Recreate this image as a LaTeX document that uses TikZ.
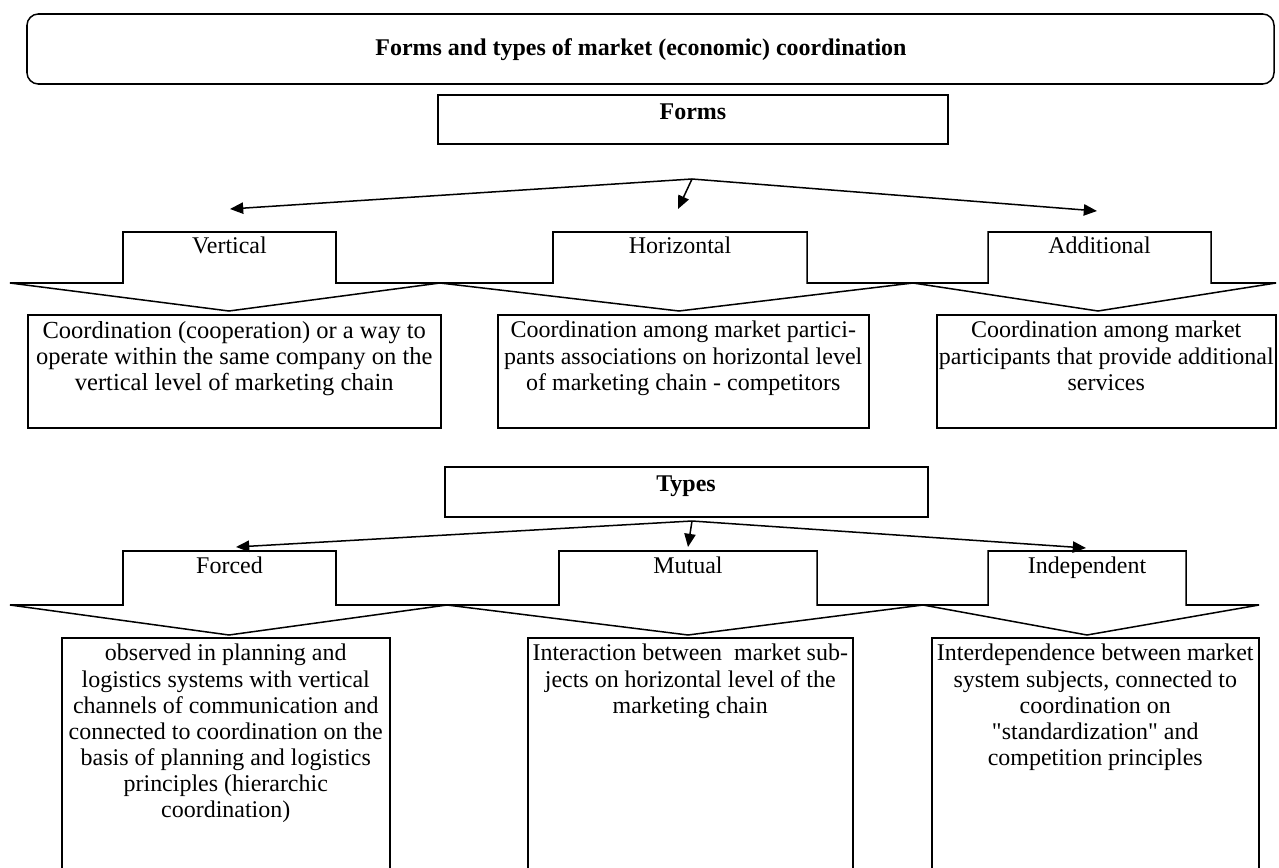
\documentclass[tikz,border=0pt]{standalone}
\usepackage{fontspec}
\setmainfont{Liberation Serif}
\usetikzlibrary{arrows.meta}
\newdimen\pxu
\pxu=0.53pt
\begin{document}
\begin{tikzpicture}[
			x=\pxu, y=-\pxu,
			line width=0.8pt,
			font=\fontsize{12.7}{13.8}\selectfont,
			titlebox/.style={draw, rounded corners=6pt, inner sep=0pt},
			headbox/.style={draw, inner sep=0pt},
			descbox/.style={draw, inner sep=0pt, anchor=north west},
			desctext/.style={anchor=north, align=center, inner sep=0pt, yshift=-3.5pt},
			kindlabel/.style={inner sep=0pt, text height=1.5ex, text depth=.25ex},
			arr/.style={-{Triangle[length=7pt,width=6pt]}},
			]
			\clip (0,0) rectangle (1279,868);
			\node[titlebox, minimum width=1247\pxu, minimum height=70\pxu] at (650.5,49) (title) {};
			\node[kindlabel] at (641,50) (titlelabel) {\textbf{Forms and types of market (economic) coordination}};
			\node[headbox, minimum width=510\pxu, minimum height=49\pxu] at (693,119.5) (forms) {};
			\node[kindlabel] at (693,114) (formslabel) {\textbf{Forms}};
			\coordinate (fapex) at (692,179);
			\coordinate (fleft) at (230,209);
			\coordinate (fmid) at (678,209);
			\coordinate (fright) at (1097,211);
			\draw[arr] (fapex) -- (fleft);
			\draw[arr] (fapex) -- (fmid);
			\draw[arr] (fapex) -- (fright);
			\draw (10,283) -- (123,283) -- (123,232) -- (336,232) -- (336,283) -- (553,283) -- (553,232) -- (807,232) -- (807,283) -- (988,283) -- (988,232) -- (1211,232) -- (1211,283) -- (1276,283) -- (1098,311) -- (913,283) -- (679,311) -- (440,283) -- (229,311) -- cycle;
			\node[kindlabel] at (229.5,248) (vertical) {Vertical};
			\node[kindlabel] at (680,248) (horizontal) {Horizontal};
			\node[kindlabel] at (1099.5,248) (additional) {Additional};
			\node[descbox, minimum width=413\pxu, minimum height=113\pxu] at (27,314) (vdesc) {};
			\node[descbox, minimum width=371\pxu, minimum height=113\pxu] at (497,314) (hdesc) {};
			\node[descbox, minimum width=339\pxu, minimum height=113\pxu] at (936,314) (adesc) {};
			\node[desctext, font=\fontsize{13}{13.8}\selectfont] at (vdesc.north) (vtext) {Coordination (cooperation) or a way to\\operate within the same company on the\\vertical level of marketing chain};
			\node[desctext] at (hdesc.north) (htext) {Coordination among market partici-\\pants associations on horizontal level\\of marketing chain - competitors};
			\node[desctext] at (adesc.north) (atext) {Coordination among market\\participants that provide additional\\services};
			\node[headbox, minimum width=483\pxu, minimum height=50\pxu] at (686.5,492) (types) {};
			\node[kindlabel] at (686,486) (typeslabel) {\textbf{Types}};
			\coordinate (tapex) at (692,521);
			\coordinate (tleft) at (236,547);
			\coordinate (tmid) at (688,547);
			\coordinate (tright) at (1086,548);
			\draw[arr] (tapex) -- (tleft);
			\draw[arr] (tapex) -- (tmid);
			\draw[arr] (tapex) -- (tright);
			\draw (10,605) -- (123,605) -- (123,551) -- (336,551) -- (336,605) -- (559,605) -- (559,551) -- (817,551) -- (817,605) -- (988,605) -- (988,551) -- (1186,551) -- (1186,605) -- (1259,605) -- (1087,635) -- (923,605) -- (688,635) -- (447,605) -- (229,635) -- cycle;
			\node[kindlabel] at (229.5,568) (forced) {Forced};
			\node[kindlabel] at (688,568) (mutual) {Mutual};
			\node[kindlabel] at (1087,568) (independent) {Independent};
			\node[descbox, minimum width=328\pxu, minimum height=260\pxu] at (61,637) (fdesc) {};
			\node[descbox, minimum width=325\pxu, minimum height=260\pxu] at (527,637) (mdesc) {};
			\node[descbox, minimum width=327\pxu, minimum height=260\pxu] at (931,637) (idesc) {};
			\node[desctext] at (fdesc.north) (ftext) {observed in planning and\\logistics systems with vertical\\channels of communication and\\connected to coordination on the\\basis of planning and logistics\\principles (hierarchic\\coordination)};
			\node[desctext] at (mdesc.north) (mtext) {Interaction between\ \ market sub-\\jects on horizontal level of the\\marketing chain};
			\node[desctext] at (idesc.north) (itext) {Interdependence between market\\system subjects, connected to\\coordination on\\\textquotedbl standardization\textquotedbl{} and\\competition principles};
		\end{tikzpicture}
\end{document}
